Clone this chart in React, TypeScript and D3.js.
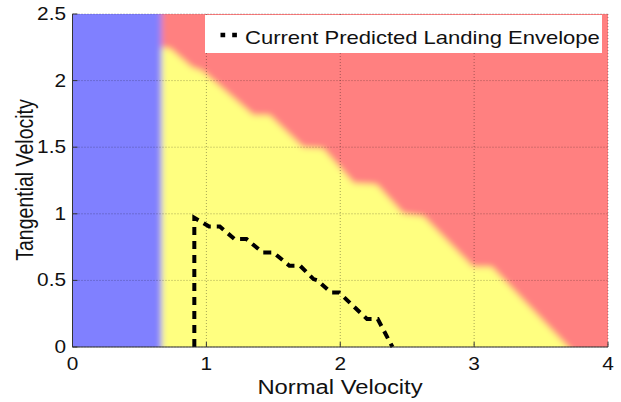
import * as d3 from "d3";

// safe / unsafe region boundary (yellow below, red above)
const boundaryNormal = [0.66, 0.73, 0.89, 0.97, 1.35, 1.47, 1.72, 1.87, 2.1, 2.27, 2.47, 2.62, 2.99, 3.13, 3.7];
const boundaryTangential = [2.25, 2.24, 2.1, 2.07, 1.74, 1.74, 1.5, 1.49, 1.23, 1.22, 1.0, 0.98, 0.6, 0.6, 0];
// left edge of the feasible region (blue to the left)
const minNormal = 0.665;

// current predicted landing envelope
const envNormal = [0.91, 0.91, 1.02, 1.1, 1.21, 1.3, 1.42, 1.5, 1.62, 1.7, 1.8, 1.83, 1.93, 1.99, 2.2, 2.28, 2.39];
const envTangential = [0, 0.97, 0.905, 0.905, 0.81, 0.81, 0.71, 0.71, 0.61, 0.61, 0.51, 0.5, 0.41, 0.41, 0.21, 0.21, 0];

const xTicks = [0, 1, 2, 3, 4];
const yTicks = [0, 0.5, 1, 1.5, 2, 2.5];
const legendLabel = "Current Predicted Landing Envelope";

const W = 621;
const H = 402;
const left = 72.5;
const right = 608;
const top = 14;
const bottom = 347;
const stretch = 1.19;
const font = "'Liberation Sans', Arial, Helvetica, sans-serif";

export default function App() {
  const x = d3.scaleLinear().domain([0, 4]).range([left, right]);
  const y = d3.scaleLinear().domain([0, 2.5]).range([bottom, top]);

  const boundary = boundaryNormal.map((n, i) => [n, boundaryTangential[i]] as [number, number]);
  const n1 = boundaryNormal.length - 1;
  const slope = (boundaryNormal[n1] - boundaryNormal[n1 - 1]) / (boundaryTangential[n1 - 1] - boundaryTangential[n1]);
  const yellowPts: [number, number][] = [
    [minNormal, -0.3],
    [minNormal, boundaryTangential[0]],
    ...boundary,
    [boundaryNormal[n1] + slope * 0.3, -0.3],
  ];
  const area = d3
    .line<[number, number]>()
    .x((d) => x(d[0]))
    .y((d) => y(d[1]));
  const envelope = d3
    .line<[number, number]>()
    .x((d) => x(d[0]))
    .y((d) => y(d[1]))(envNormal.map((n, i) => [n, envTangential[i]] as [number, number]));

  const label = (tx: number, ty: number, txt: string, size: number, anchor: string, rot = 0) => (
    <g transform={`translate(${tx},${ty}) scale(${stretch},1)${rot ? ` rotate(${rot})` : ""}`}>
      <text fontFamily={font} fontSize={size} textAnchor={anchor} fill="#111">
        {txt}
      </text>
    </g>
  );

  return (
    <svg width={W} height={H} style={{ position: "absolute", left: 0, top: 0, background: "#fff" }}>
      <defs>
        <clipPath id="plot">
          <rect x={left} y={top} width={right - left} height={bottom - top} />
        </clipPath>
        <filter id="soft" x="-20%" y="-20%" width="140%" height="140%">
          <feGaussianBlur stdDeviation="3" />
        </filter>
      </defs>
      <g clipPath="url(#plot)">
        <g filter="url(#soft)">
          <rect x={x(-0.3)} y={y(2.8)} width={x(4.3) - x(-0.3)} height={y(-0.3) - y(2.8)} fill="#ff8080" />
          <path d={area(yellowPts) + "Z"} fill="#ffff80" />
          <rect x={x(-0.3)} y={y(2.8)} width={x(minNormal) - x(-0.3)} height={y(-0.3) - y(2.8)} fill="#8080ff" />
        </g>
      </g>
      {/* grid */}
      <g stroke="#000" strokeOpacity={0.35} strokeWidth={1} strokeDasharray="1,2">
        {xTicks.map((t) => (
          <line key={"gx" + t} x1={x(t)} x2={x(t)} y1={top} y2={bottom} />
        ))}
        {yTicks.map((t) => (
          <line key={"gy" + t} x1={left} x2={right} y1={y(t)} y2={y(t)} />
        ))}
      </g>
      {/* envelope */}
      <path
        d={envelope ?? ""}
        fill="none"
        stroke="#000"
        strokeWidth={4}
        strokeDasharray="8,6"
        strokeLinejoin="miter"
      />
      {/* axes */}
      <g stroke="#333" strokeWidth={1}>
        <line x1={left} x2={right} y1={bottom} y2={bottom} />
        <line x1={left} x2={left} y1={top} y2={bottom} />
        {xTicks.map((t) => (
          <line key={"tx" + t} x1={x(t)} x2={x(t)} y1={bottom} y2={bottom - 5} />
        ))}
        {yTicks.map((t) => (
          <line key={"ty" + t} x1={left} x2={left + 5} y1={y(t)} y2={y(t)} />
        ))}
      </g>
      {xTicks.map((t) => (
        <g key={"lx" + t}>{label(x(t), 370, String(t), 17.5, "middle")}</g>
      ))}
      {yTicks.map((t) => (
        <g key={"ly" + t}>{label(66, y(t) + 6, String(t), 17.5, "end")}</g>
      ))}
      {label(340, 394, "Normal Velocity", 20, "middle")}
      {label(33, 180, "Tangential Velocity", 19.5, "middle", -90)}
      {/* legend */}
      <rect x={205} y={15} width={397} height={38} fill="#fff" />
      <line x1={220.5} x2={237} y1={35} y2={35} stroke="#000" strokeWidth={4.5} strokeDasharray="4.7,7" />
      {label(245, 44, legendLabel, 18.5, "start")}
    </svg>
  );
}
